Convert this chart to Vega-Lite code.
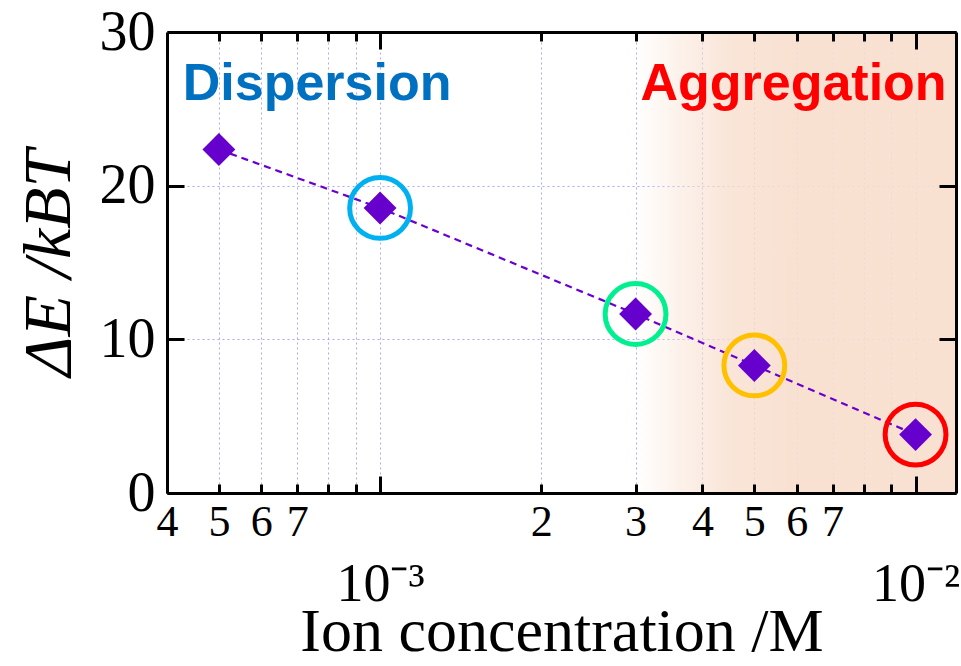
{
  "$schema": "https://vega.github.io/schema/vega-lite/v6.json",
  "width": 789,
  "height": 461,
  "autosize": "none",
  "padding": {"left": 167, "top": 32, "right": 5, "bottom": 173},
  "background": "white",
  "config": {
    "view": {"stroke": null},
    "axis": {
      "labelFont": "Liberation Serif",
      "titleFont": "Liberation Serif",
      "labelColor": "black",
      "titleColor": "black",
      "domainColor": "black",
      "tickColor": "black",
      "domainWidth": 3,
      "tickWidth": 3,
      "titleFontWeight": "normal"
    }
  },
  "datasets": {
    "points": [
      {"c": 0.0005, "e": 22.35},
      {"c": 0.001, "e": 18.55},
      {"c": 0.003, "e": 11.65},
      {"c": 0.005, "e": 8.3},
      {"c": 0.01, "e": 3.8}
    ],
    "circles": [
      {"c": 0.001, "e": 18.55, "state": "s1"},
      {"c": 0.003, "e": 11.65, "state": "s2"},
      {"c": 0.005, "e": 8.3, "state": "s3"},
      {"c": 0.01, "e": 3.8, "state": "s4"}
    ],
    "region": [
      {"c1": 0.003, "c2": 0.0119, "e1": 0, "e2": 30}
    ],
    "disp": [{"c": 0.000428, "e": 25.6, "label": "Dispersion"}],
    "aggr": [{"c": 0.01143, "e": 25.6, "label": "Aggregation"}]
  },
  "layer": [
    {
      "data": {"name": "region"},
      "mark": {
        "type": "rect",
        "fill": {
          "gradient": "linear",
          "x1": 0, "x2": 1, "y1": 0, "y2": 0,
          "stops": [
            {"offset": 0, "color": "rgba(248,222,205,0)"},
            {"offset": 0.15, "color": "rgba(248,222,205,0.45)"},
            {"offset": 0.3, "color": "rgba(248,222,205,0.78)"},
            {"offset": 0.48, "color": "rgba(248,222,205,0.9)"},
            {"offset": 1, "color": "rgba(248,222,205,0.9)"}
          ]
        }
      },
      "encoding": {
        "x": {
          "field": "c1", "type": "quantitative",
          "scale": {"type": "log", "domain": [0.0004, 0.0119], "nice": false},
          "axis": {
            "orient": "bottom",
            "values": [0.0005, 0.0006, 0.0007, 0.0008, 0.0009, 0.001, 0.002, 0.003, 0.004, 0.005, 0.006, 0.007, 0.008, 0.009, 0.01],
            "grid": true, "gridColor": "#a8a8ff", "gridDash": [2, 3], "gridWidth": 1,
            "ticks": false, "labels": false, "domain": false, "title": null, "zindex": 0
          }
        },
        "x2": {"field": "c2"},
        "y": {
          "field": "e1", "type": "quantitative",
          "scale": {"domain": [0, 30], "nice": false},
          "axis": {
            "orient": "left",
            "values": [10, 20],
            "grid": true, "gridColor": "#a8a8ff", "gridDash": [2, 3], "gridWidth": 1,
            "ticks": false, "labels": false, "domain": false, "title": null, "zindex": 0
          }
        },
        "y2": {"field": "e2"}
      }
    },
    {
      "data": {"name": "points"},
      "mark": {"type": "line", "color": "#6a00d0", "strokeDash": [7, 5], "strokeWidth": 2.2},
      "encoding": {
        "x": {
          "field": "c", "type": "quantitative",
          "axis": {
            "orient": "bottom",
            "values": [0.0004, 0.0005, 0.0006, 0.0007, 0.0008, 0.0009, 0.001, 0.002, 0.003, 0.004, 0.005, 0.006, 0.007, 0.008, 0.009, 0.01],
            "grid": false, "zindex": 1, "domain": true, "ticks": true,
            "tickSize": {"condition": {"test": "datum.value == 0.001 || datum.value == 0.01", "value": -17}, "value": -9},
            "labelExpr": "datum.value == 0.001 ? ['', '10⁻³'] : datum.value == 0.01 ? ['', '10⁻²'] : (round(datum.value / pow(10, floor(log(datum.value) / LN10 + 1e-6))) >= 8 ? '' : '' + round(datum.value / pow(10, floor(log(datum.value) / LN10 + 1e-6))))",
            "labelFontSize": {"condition": {"test": "datum.value == 0.001 || datum.value == 0.01", "value": 54}, "value": 44},
            "labelLineHeight": 65,
            "labelPadding": 16,
            "labelFlush": false,
            "labelOverlap": false,
            "labelBound": false,
            "title": "Ion concentration /M",
            "titleFontSize": 62,
            "titlePadding": -10
          }
        },
        "y": {
          "field": "e", "type": "quantitative",
          "axis": {
            "orient": "left",
            "values": [0, 10, 20, 30],
            "grid": false, "zindex": 1, "domain": true, "ticks": true,
            "tickSize": -17,
            "labelFontSize": 56,
            "labelPadding": 29,
            "labelFlush": false,
            "labelOverlap": false,
            "title": "ΔE /kBT",
            "titleFontSize": 68,
            "titleFontStyle": "italic",
            "titlePadding": 16
          }
        }
      }
    },
    {
      "data": {"name": "points"},
      "mark": {"type": "point", "shape": "diamond", "filled": true, "size": 1080, "color": "#6600cc", "opacity": 1},
      "encoding": {
        "x": {
          "field": "c", "type": "quantitative",
          "axis": {
            "orient": "top",
            "values": [0.0005, 0.0006, 0.0007, 0.0008, 0.0009, 0.001, 0.002, 0.003, 0.004, 0.005, 0.006, 0.007, 0.008, 0.009, 0.01],
            "grid": false, "zindex": 1, "domain": true, "ticks": true, "labels": false, "title": null,
            "tickSize": {"condition": {"test": "datum.value == 0.001 || datum.value == 0.01", "value": -17}, "value": -9}
          }
        },
        "y": {
          "field": "e", "type": "quantitative",
          "axis": {
            "orient": "right",
            "values": [0, 10, 20, 30],
            "grid": false, "zindex": 1, "domain": true, "ticks": true, "labels": false, "title": null,
            "tickSize": -17
          }
        }
      }
    },
    {
      "data": {"name": "circles"},
      "mark": {"type": "point", "shape": "circle", "filled": false, "size": 3700, "strokeWidth": 5, "opacity": 1},
      "encoding": {
        "x": {"field": "c", "type": "quantitative", "axis": null},
        "y": {"field": "e", "type": "quantitative", "axis": null},
        "color": {
          "field": "state", "type": "nominal",
          "scale": {"domain": ["s1", "s2", "s3", "s4"], "range": ["#00b0f0", "#00f090", "#ffc000", "#ff0000"]},
          "legend": null
        }
      }
    },
    {
      "data": {"name": "disp"},
      "mark": {"type": "text", "font": "Liberation Sans", "fontWeight": "bold", "fontSize": 52, "color": "#0070c0", "align": "left", "baseline": "alphabetic"},
      "encoding": {
        "x": {"field": "c", "type": "quantitative", "axis": null},
        "y": {"field": "e", "type": "quantitative", "axis": null},
        "text": {"field": "label"}
      }
    },
    {
      "data": {"name": "aggr"},
      "mark": {"type": "text", "font": "Liberation Sans", "fontWeight": "bold", "fontSize": 52, "color": "#ff0000", "align": "right", "baseline": "alphabetic"},
      "encoding": {
        "x": {"field": "c", "type": "quantitative", "axis": null},
        "y": {"field": "e", "type": "quantitative", "axis": null},
        "text": {"field": "label"}
      }
    }
  ],
  "resolve": {"axis": {"x": "independent", "y": "independent"}}
}
